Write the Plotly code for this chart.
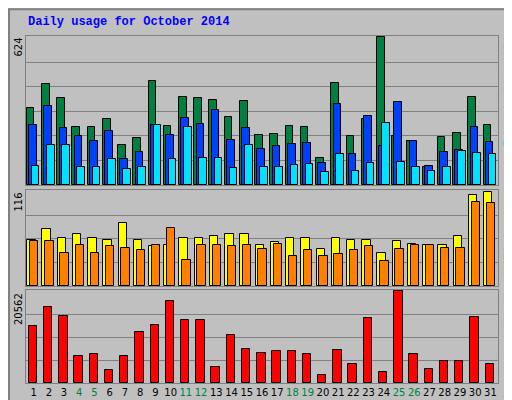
import plotly.graph_objects as go

days = list(range(1, 32))
hits = [325, 426, 367, 245, 245, 278, 169, 198, 438, 249, 371, 367, 358, 287, 354, 211,
        215, 249, 245, 114, 430, 207, 278, 624, 207, 186, 76, 202, 219, 371, 253]
files = [253, 333, 240, 207, 186, 228, 110, 139, 253, 211, 282, 257, 316, 190, 240, 152,
         164, 173, 177, 93, 341, 131, 291, 164, 350, 186, 80, 139, 148, 245, 181]
pages = [80, 169, 169, 76, 76, 110, 67, 76, 253, 110, 245, 114, 114, 72, 169, 76,
         76, 84, 89, 55, 131, 59, 93, 261, 97, 76, 59, 76, 143, 135, 131]
visits = [56, 70, 59, 64, 59, 56, 77, 56, 49, 50, 59, 59, 62, 64, 64, 51,
          54, 59, 59, 46, 59, 56, 56, 40, 55, 52, 51, 50, 62, 112, 116]
sites = [55, 55, 41, 51, 40, 49, 47, 44, 50, 71, 32, 50, 51, 49, 51, 46,
         52, 37, 44, 37, 39, 44, 49, 31, 45, 51, 50, 47, 47, 103, 102]
kbytes = [12796, 16908, 15080, 5941, 6398, 2970, 5941, 11424, 13024, 18278, 14166, 14166,
          3656, 10739, 7540, 6626, 7083, 7083, 6398, 1828, 7312, 4341, 14623, 2513, 20562,
          6398, 3199, 5027, 5027, 14852, 4341]
weekend = [4, 5, 11, 12, 18, 19, 25, 26]

BG = "#c0c0c0"
fig = go.Figure()

def bars(y, color, offset, width, xa, ya):
    fig.add_trace(go.Bar(x=days, y=y, marker=dict(color=color, line=dict(color="black", width=1)),
                         offset=offset, width=width, xaxis=xa, yaxis=ya, showlegend=False))

bars(hits, "#008040", -0.45, 0.5, "x", "y")
bars(files, "#0040ff", -0.3, 0.5, "x", "y")
bars(pages, "#00e0ff", -0.12, 0.5, "x", "y")
bars(visits, "#ffff00", -0.42, 0.55, "x2", "y2")
bars(sites, "#ff8000", -0.24, 0.55, "x2", "y2")
bars(kbytes, "#ff0000", -0.32, 0.55, "x3", "y3")

ticktext = ["<span style='color:#008040'>%d</span>" % d if d in weekend else str(d) for d in days]
xdom = [18 / 512, 490 / 512]
common_x = dict(range=[0.5, 31.5], domain=xdom, showgrid=False, zeroline=False,
                showline=True, linecolor="#808080", mirror=True, fixedrange=True)
fig.update_layout(
    width=512, height=400, margin=dict(l=0, r=0, t=0, b=0),
    paper_bgcolor=BG, plot_bgcolor=BG, barmode="overlay", bargap=0,
    font=dict(family="DejaVu Sans", size=10, color="black"),
    xaxis=dict(common_x, anchor="y", showticklabels=False),
    xaxis2=dict(common_x, anchor="y2", showticklabels=False),
    xaxis3=dict(common_x, anchor="y3", tickvals=days, ticktext=ticktext, ticks="",
                tickangle=0, tickfont=dict(size=10)),
    yaxis=dict(domain=[1 - 177 / 400, 1 - 28 / 400], range=[0, 630], showticklabels=False,
               tickvals=[104, 208, 312, 416, 520], gridcolor="#808080", zeroline=False,
               showline=True, linecolor="#808080", mirror=True),
    yaxis2=dict(domain=[1 - 278 / 400, 1 - 182 / 400], range=[0, 118], showticklabels=False,
                tickvals=[29, 58, 87], gridcolor="#808080", zeroline=False,
                showline=True, linecolor="#808080", mirror=True),
    yaxis3=dict(domain=[1 - 375 / 400, 1 - 282 / 400], range=[0, 20800], showticklabels=False,
                tickvals=[5140, 10280, 15420], gridcolor="#808080", zeroline=False,
                showline=True, linecolor="#808080", mirror=True),
)

mono = dict(family="Liberation Mono", size=10, color="black")
ann = [
    dict(x=18, y=14, text="<b>Daily usage for October 2014</b>", xanchor="left",
         font=dict(family="Liberation Mono", size=12, color="#0000ff")),
    dict(x=10, y=28, text="624", textangle=-90, yanchor="top"),
    dict(x=10, y=183, text="116", textangle=-90, yanchor="top"),
    dict(x=10, y=283, text="20562", textangle=-90, yanchor="top"),
    dict(x=499, y=28, text="<span style='color:#008040'>Hits</span> / <span style='color:#0040ff'>Files</span> / <span style='color:#00e0ff'>Pages</span>",
         textangle=90, yanchor="top", font=mono),
    dict(x=499, y=183, text="<span style='color:#ffff00'>Visits</span> / <span style='color:#ff8000'>Sites</span>",
         textangle=90, yanchor="top", font=mono),
    dict(x=499, y=283, text="<span style='color:#008040'>KB Out</span> / <span style='color:#0040ff'>KB In</span> / <span style='color:#ff0000'>KB F</span>",
         textangle=90, yanchor="top", font=mono),
]
for a in ann:
    a.setdefault("font", dict(family="DejaVu Sans", size=10, color="black"))
    fig.add_annotation(xref="paper", yref="paper", x=a["x"] / 512, y=1 - a["y"] / 400,
                       text=a["text"], textangle=a.get("textangle", 0),
                       xanchor=a.get("xanchor", "center"), yanchor=a.get("yanchor", "middle"),
                       showarrow=False, font=a["font"])

fig.add_shape(type="rect", xref="paper", yref="paper", x0=0.002, y0=0.003, x1=0.998, y1=0.997,
              line=dict(color="#808080", width=2))
fig.write_html("out.html")
